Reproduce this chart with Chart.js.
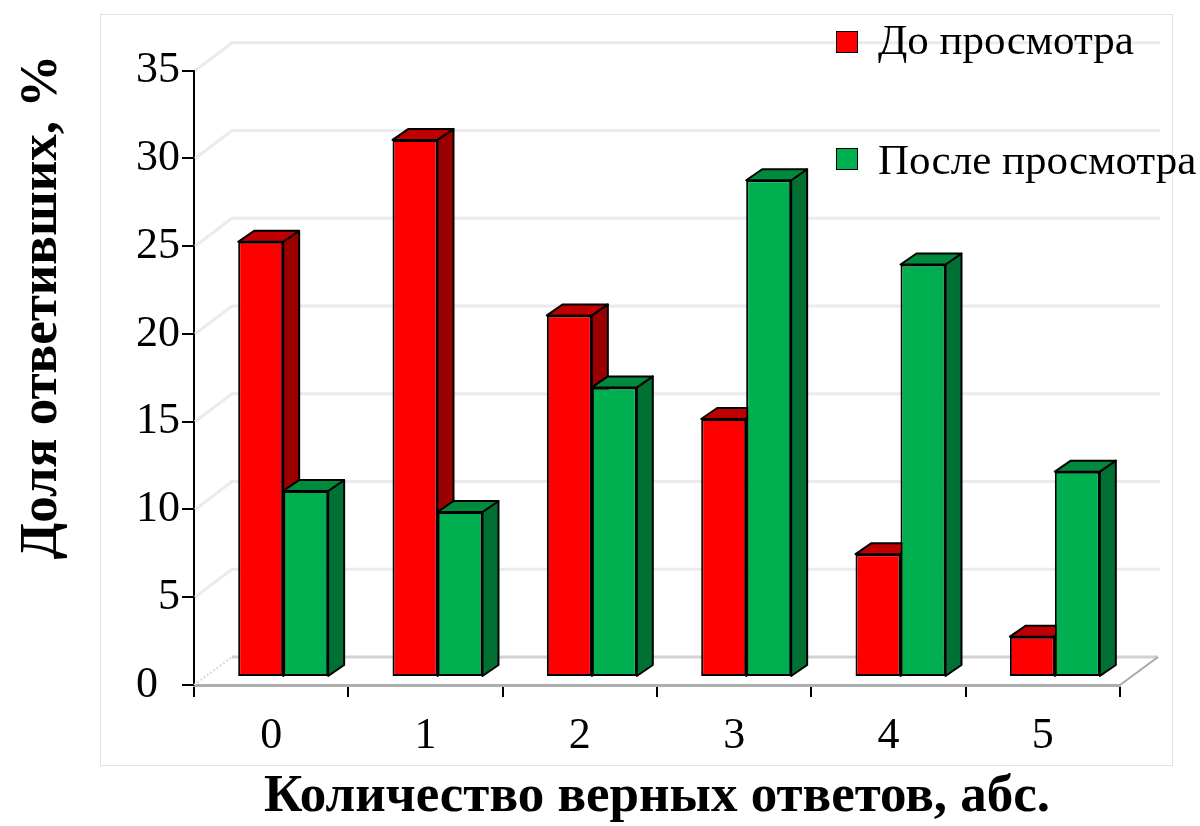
<!DOCTYPE html>
<html>
<head>
<meta charset="utf-8">
<script src="https://cdn.jsdelivr.net/npm/chart.js@4"></script>
<style>
  html, body { margin: 0; padding: 0; background: #ffffff; }
  #wrap { width: 1200px; height: 826px; position: relative; }
</style>
</head>
<body>
<div id="wrap"><canvas id="chart" width="1200" height="826"></canvas></div>
<script>
// Data
const categories = ['0', '1', '2', '3', '4', '5'];
const beforeViewing = [24.8, 30.6, 20.6, 14.7, 7.0, 2.3];
const afterViewing = [10.6, 9.4, 16.5, 28.3, 23.5, 11.7];
const seriesNames = ['До просмотра', 'После просмотра'];
const yTickValues = [0, 5, 10, 15, 20, 25, 30, 35];
const xAxisTitle = 'Количество верных ответов, абс.';
const yAxisTitle = 'Доля ответивших, %';

// Styling of the pseudo-3D boxes
const frontColors = ['#FF0000', '#00B050'];
const topColors = ['#C00000', '#008A3E'];
const sideColors = ['#9A0000', '#007033'];
const WALL_DEPTH = { x: 38, y: -28 };   // depth of the wall/floor
const BAR_SHIFT = { x: 12, y: -8 };     // bars stand in the middle of the floor depth
const BAR_DEPTH = { x: 16, y: -11 };    // depth of each box
const SERIF = '"Liberation Serif", "Times New Roman", serif';

function line(ctx, pts) {
  ctx.beginPath();
  ctx.moveTo(pts[0][0], pts[0][1]);
  for (let i = 1; i < pts.length; i++) ctx.lineTo(pts[i][0], pts[i][1]);
  ctx.stroke();
}

function poly(ctx, pts, fill) {
  ctx.beginPath();
  ctx.moveTo(pts[0][0], pts[0][1]);
  for (let i = 1; i < pts.length; i++) ctx.lineTo(pts[i][0], pts[i][1]);
  ctx.closePath();
  ctx.fillStyle = fill;
  ctx.fill();
  ctx.stroke();
}

const box3d = {
  id: 'box3d',
  beforeDraw(chart) {
    // plot frame
    const ctx = chart.ctx;
    ctx.save();
    ctx.strokeStyle = '#E3E3E3';
    ctx.lineWidth = 1;
    ctx.strokeRect(100.5, 14.5, 1072, 751);
    ctx.restore();
  },
  beforeDatasetsDraw(chart) {
    const { ctx, chartArea: a, scales: { x, y } } = chart;
    ctx.save();
    ctx.lineCap = 'butt';
    // side and back walls: gridlines
    ctx.strokeStyle = '#EBEBEB';
    ctx.lineWidth = 3;
    yTickValues.forEach(v => {
      if (v === 0) return;
      const py = y.getPixelForValue(v);
      line(ctx, [[a.left + 1, py], [a.left + WALL_DEPTH.x, py + WALL_DEPTH.y],
                 [a.right + WALL_DEPTH.x + 2, py + WALL_DEPTH.y]]);
    });
    // floor
    const by = y.getPixelForValue(0);
    ctx.strokeStyle = '#D2D2D2';
    line(ctx, [[a.left + WALL_DEPTH.x, by + WALL_DEPTH.y], [a.right + WALL_DEPTH.x, by + WALL_DEPTH.y]]);
    ctx.strokeStyle = '#A8A8A8';
    ctx.lineWidth = 2;
    line(ctx, [[a.right, by], [a.right + WALL_DEPTH.x, by + WALL_DEPTH.y]]);
    ctx.strokeStyle = '#D8D8D8';
    ctx.setLineDash([2, 2]);
    line(ctx, [[a.left, by], [a.left + WALL_DEPTH.x, by + WALL_DEPTH.y]]);
    ctx.setLineDash([]);

    // top and side faces of the boxes, drawn left to right
    ctx.strokeStyle = '#000000';
    ctx.lineWidth = 2;
    ctx.lineJoin = 'round';
    categories.forEach((c, i) => {
      chart.data.datasets.forEach((ds, d) => {
        const el = chart.getDatasetMeta(d).data[i];
        const p = el.getProps(['x', 'y', 'base', 'width'], true);
        const l = p.x - p.width / 2 + BAR_SHIFT.x;
        const r = p.x + p.width / 2 + BAR_SHIFT.x;
        const t = p.y + BAR_SHIFT.y;
        const b = p.base + BAR_SHIFT.y;
        poly(ctx, [[r, t], [r + BAR_DEPTH.x, t + BAR_DEPTH.y], [r + BAR_DEPTH.x, b + BAR_DEPTH.y], [r, b]], sideColors[d]);
        poly(ctx, [[l, t], [r, t], [r + BAR_DEPTH.x, t + BAR_DEPTH.y], [l + BAR_DEPTH.x, t + BAR_DEPTH.y]], topColors[d]);
      });
    });
    ctx.restore();
    // front faces are drawn by Chart.js, moved into the floor depth
    ctx.save();
    ctx.translate(BAR_SHIFT.x, BAR_SHIFT.y);
  },
  afterDatasetsDraw(chart) {
    chart.ctx.restore();
  },
  afterDraw(chart) {
    const ctx = chart.ctx;
    ctx.save();
    // legend
    ctx.font = '43px ' + SERIF;
    ctx.textAlign = 'left';
    ctx.textBaseline = 'alphabetic';
    const legendRows = [{ box: 31, base: 54 }, { box: 148, base: 174 }];
    seriesNames.forEach((name, d) => {
      const row = legendRows[d];
      ctx.fillStyle = frontColors[d];
      ctx.fillRect(836.5, row.box + 0.5, 21, 21);
      ctx.strokeStyle = '#000000';
      ctx.lineWidth = 1;
      ctx.strokeRect(836.5, row.box + 0.5, 21, 21);
      ctx.fillStyle = '#000000';
      ctx.fillText(name, 878, row.base);
    });
    // vertical axis title
    ctx.translate(42, 307);
    ctx.rotate(-Math.PI / 2);
    ctx.font = 'bold 53px ' + SERIF;
    ctx.textAlign = 'center';
    ctx.textBaseline = 'middle';
    ctx.fillText(yAxisTitle, 0, 0);
    ctx.restore();
  }
};

new Chart(document.getElementById('chart'), {
  type: 'bar',
  data: {
    labels: categories,
    datasets: [
      { label: seriesNames[0], data: beforeViewing, backgroundColor: frontColors[0] },
      { label: seriesNames[1], data: afterViewing, backgroundColor: frontColors[1] }
    ]
  },
  options: {
    responsive: false,
    animation: false,
    events: [],
    layout: { padding: { top: 70.7, right: 80, left: 0, bottom: 0 } },
    datasets: {
      bar: {
        borderColor: '#000000',
        borderWidth: 2,
        borderSkipped: false,
        categoryPercentage: 0.583,
        barPercentage: 1.0,
        clip: false
      }
    },
    plugins: {
      legend: { display: false },
      tooltip: { enabled: false },
      title: { display: false }
    },
    scales: {
      x: {
        offset: true,
        grid: {
          offset: true,
          drawOnChartArea: false,
          drawTicks: true,
          tickLength: 12,
          color: '#000000',
          lineWidth: 2
        },
        border: { display: true, color: '#ADADAD', width: 3 },
        ticks: {
          color: '#000000',
          font: { family: SERIF, size: 44 },
          padding: 13,
          maxRotation: 0
        },
        title: {
          display: true,
          text: xAxisTitle,
          color: '#000000',
          font: { family: SERIF, size: 53, weight: 'bold', lineHeight: 1.0 },
          padding: { top: 0, bottom: 2 }
        },
        afterFit(axis) { axis.height = 826 - 685; }
      },
      y: {
        min: 0,
        max: 35,
        afterBuildTicks(axis) { axis.ticks = yTickValues.map(v => ({ value: v })); },
        grid: {
          drawOnChartArea: false,
          drawTicks: true,
          tickLength: 12,
          color: '#000000',
          lineWidth: 2
        },
        border: { display: true, color: '#000000', width: 2 },
        ticks: {
          color: '#000000',
          font: { family: SERIF, size: 44 },
          padding: 2,
          // the zero label sits a little further out, at the floor corner
          callback: (v) => (v === 0 ? '0\u2002' : String(v))
        },
        afterFit(axis) { axis.width = 194; }
      }
    }
  },
  plugins: [box3d]
});
</script>
</body>
</html>
